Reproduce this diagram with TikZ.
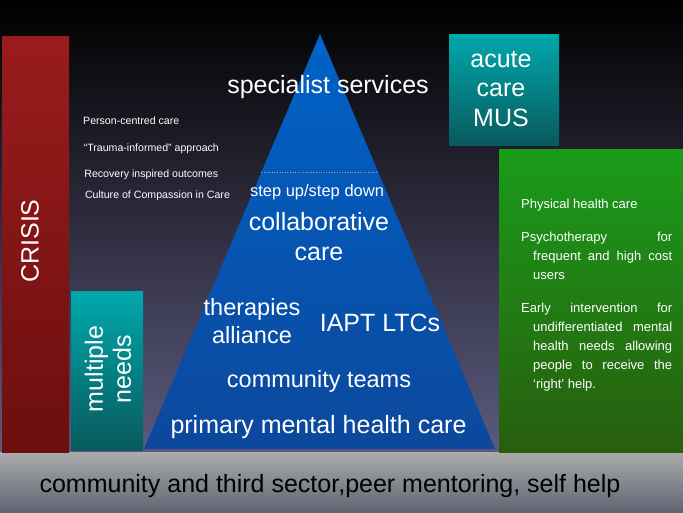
\documentclass[tikz,border=0pt]{standalone}
\usepackage{fontspec}
\setmainfont{Liberation Sans}
\usetikzlibrary{calc}
\definecolor{skyMid}{RGB}{32,28,68}
\definecolor{skyBot}{RGB}{92,90,126}
\definecolor{crisisTop}{RGB}{154,28,28}
\definecolor{crisisBot}{RGB}{108,14,14}
\definecolor{tealTop}{RGB}{0,168,172}
\definecolor{tealBot}{RGB}{8,90,94}
\definecolor{greenTop}{RGB}{26,156,26}
\definecolor{greenBot}{RGB}{40,94,14}
\definecolor{pyrTop}{RGB}{0,98,200}
\definecolor{pyrBot}{RGB}{12,72,156}
\definecolor{baseTop}{RGB}{170,172,170}
\definecolor{baseBot}{RGB}{96,100,114}
\tikzset{
  big/.style={font=\fontsize{25}{29.5}\selectfont, text=white, align=center, inner sep=0pt},
  mid/.style={font=\fontsize{23.5}{28}\selectfont, text=white, align=center, inner sep=0pt},
  listtext/.style={font=\fontsize{10.6}{13}\selectfont, text=white, inner sep=0pt, anchor=base west},
}
\newcommand{\hangpara}{\hangindent=12pt\hangafter=1\relax}
\begin{document}
\begin{tikzpicture}[x=1pt,y=-1pt]
  \useasboundingbox (0,0) rectangle (683,512);
  \shade[top color=black, middle color=skyMid, bottom color=skyBot] (0,0) rectangle (683,452);
  \shade[top color=baseTop, bottom color=baseBot] (0,452) rectangle (683,512);
  \shade[top color=crisisTop, bottom color=crisisBot] (2,36) rectangle (69,452);
  \shade[top color=tealTop, bottom color=tealBot] (71,291) rectangle (143,450);
  \shade[top color=tealTop, bottom color=tealBot] (449,34) rectangle (559,145);
  \shade[top color=greenTop, bottom color=greenBot] (499,149) rectangle (683,452);
  \coordinate (apex) at (320,34);
  \coordinate (baseL) at (144,449);
  \coordinate (baseR) at (495,449);
  \shade[top color=pyrTop, bottom color=pyrBot] (apex) -- (baseL) -- (baseR) -- cycle;
  \coordinate (divL) at ($(apex)!0.3325!(baseL)$);
  \coordinate (divR) at ($(apex)!0.3325!(baseR)$);
  \draw[gray!70, dotted, line width=0.6pt] (divL) -- (divR);

  \node[big, anchor=base] (spec) at (328,93) {specialist services};
  \node[big, anchor=base] (acute) at (501,126) {acute\\care\\MUS};
  \node[big, rotate=90] (crisis) at (30,241) {CRISIS};
  \node[big, rotate=90, align=center, font=\fontsize{25}{28}\selectfont] (multi) at (108,369) {multiple\\needs};
  \node[font=\fontsize{16.5}{20}\selectfont, text=white, inner sep=0pt, anchor=base] (step) at (317,196) {step up/step down};
  \node[big, anchor=base] (collab) at (319,260) {collaborative\\care};
  \node[mid, anchor=base] (ther) at (252,343) {therapies\\alliance};
  \node[big, anchor=base] (iapt) at (380,331) {IAPT LTCs};
  \node[mid, anchor=base] (commteam) at (319,387) {community teams};
  \node[big, anchor=base] (primary) at (318.5,433) {primary mental health care};
  \node[big, text=black, anchor=base] (third) at (330,492) {community and third sector,peer mentoring, self help};

  \foreach \yy/\txt [count=\k] in {124.5/{Person-centred care}, 151/{“Trauma-informed” approach}, 177/{Recovery inspired outcomes}, 198/{Culture of Compassion in Care}}
    \node[listtext] (item\k) at (83+0.6*\k-0.6,\yy) {\txt};

  \node[font=\fontsize{13}{19}\selectfont, text=white, inner sep=0pt, text width=151pt, align=justify, anchor=north west] (greentext) at (521,199)
    {\setlength{\parskip}{14pt}\hyphenpenalty=10000\exhyphenpenalty=10000
     \hangpara Physical health care\par
     \hangpara Psychotherapy for frequent and high cost users\par
     \hangpara Early intervention for undifferentiated mental health needs allowing people to receive the ‘right’ help.\par};
\end{tikzpicture}
\end{document}
